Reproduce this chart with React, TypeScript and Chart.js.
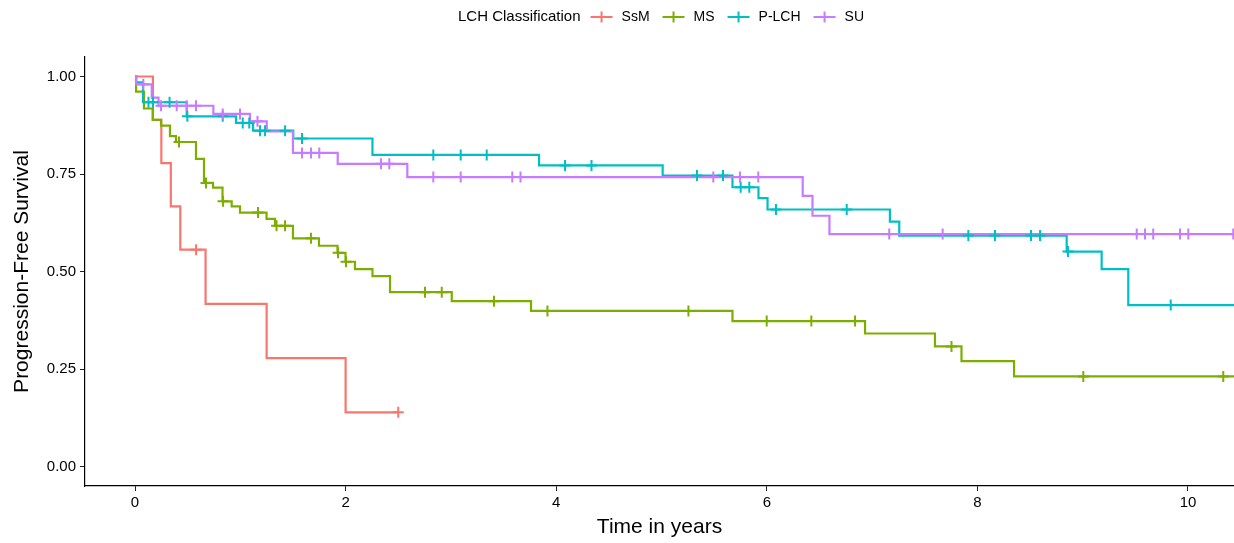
import React, { useEffect, useRef } from 'react';
import { Chart, registerables } from 'chart.js';

Chart.register(...registerables);

const FONT = '"Liberation Sans", Arial, sans-serif';

const legendTitle = 'LCH Classification';
const groups = ['SsM', 'MS', 'P-LCH', 'SU'];
const colors = ['#F8766D', '#7CAE00', '#00BFC4', '#C77CFF'];

const xTicks = [0, 2, 4, 6, 8, 10];
const xTickLabels = ['0', '2', '4', '6', '8', '10'];
const yTicks = [0, 0.25, 0.5, 0.75, 1];
const yTickLabels = ['0.00', '0.25', '0.50', '0.75', '1.00'];

// SsM
const ssmTime = [0, 0.17, 0.25, 0.34, 0.43, 0.67, 1.25, 2.0];
const ssmSurv = [1, 0.889, 0.778, 0.667, 0.556, 0.417, 0.278, 0.139];
const ssmCensor = [0.58, 2.5];
const ssmEnd = 2.5;

// MS
const msTime = [0, 0.01, 0.085, 0.168, 0.247, 0.332, 0.389, 0.579, 0.655, 0.741, 0.831, 0.918, 0.997, 1.249, 1.33, 1.5, 1.747, 1.923, 1.999, 2.089, 2.255, 2.422, 3.008, 3.761, 5.674, 6.933, 7.597, 7.849, 8.348];
const msSurv = [1, 0.961, 0.918, 0.889, 0.874, 0.847, 0.832, 0.789, 0.727, 0.715, 0.68, 0.667, 0.651, 0.635, 0.617, 0.585, 0.566, 0.548, 0.525, 0.506, 0.488, 0.447, 0.424, 0.399, 0.373, 0.341, 0.308, 0.27, 0.231];
const msCensor = [0.418, 0.674, 0.836, 1.168, 1.344, 1.425, 1.671, 1.928, 2.004, 2.754, 2.913, 3.409, 3.917, 5.256, 5.999, 6.423, 6.838, 7.754, 9.006, 10.335];
const msEnd = 10.8;

// P-LCH
const plTime = [0, 0.01, 0.076, 0.491, 0.959, 1.121, 1.503, 2.255, 3.837, 5.011, 5.674, 5.921, 6.007, 7.169, 7.258, 8.848, 9.18, 9.433];
const plSurv = [1, 0.985, 0.934, 0.898, 0.881, 0.861, 0.841, 0.799, 0.772, 0.746, 0.716, 0.688, 0.659, 0.628, 0.592, 0.551, 0.506, 0.414];
const plCensor = [0.128, 0.171, 0.328, 0.497, 0.833, 1.023, 1.085, 1.187, 1.235, 1.425, 1.586, 2.833, 3.093, 3.34, 4.084, 4.335, 5.337, 5.584, 5.752, 5.834, 6.087, 6.759, 7.914, 8.167, 8.509, 8.595, 8.86, 9.836];
const plEnd = 10.8;

// SU
const suTime = [0, 0.01, 0.159, 0.223, 0.744, 1.092, 1.251, 1.5, 1.925, 2.586, 6.341, 6.434, 6.595];
const suSurv = [1, 0.98, 0.946, 0.925, 0.904, 0.885, 0.859, 0.804, 0.776, 0.742, 0.694, 0.643, 0.596];
const suCensor = [0.079, 0.247, 0.396, 0.491, 0.579, 0.833, 0.997, 1.163, 1.586, 1.671, 1.75, 2.336, 2.415, 2.833, 3.093, 3.583, 3.661, 5.492, 5.745, 5.919, 7.163, 7.67, 9.513, 9.592, 9.67, 9.924, 10.003, 10.43];
const suEnd = 10.8;

const series = [
  { time: ssmTime, surv: ssmSurv, censor: ssmCensor, end: ssmEnd },
  { time: msTime, surv: msSurv, censor: msCensor, end: msEnd },
  { time: plTime, surv: plSurv, censor: plCensor, end: plEnd },
  { time: suTime, surv: suSurv, censor: suCensor, end: suEnd },
];

function stairs(time: number[], surv: number[], end: number) {
  const pts: { x: number; y: number }[] = [{ x: time[0], y: surv[0] }];
  for (let i = 1; i < time.length; i++) {
    pts.push({ x: time[i], y: surv[i - 1] });
    pts.push({ x: time[i], y: surv[i] });
  }
  pts.push({ x: end, y: surv[surv.length - 1] });
  return pts;
}

function levelAt(time: number[], surv: number[], t: number) {
  let s = surv[0];
  for (let i = 0; i < time.length; i++) {
    if (time[i] <= t) s = surv[i];
  }
  return s;
}

const legendPlugin = {
  id: 'kmLegend',
  afterDraw(chart: any) {
    const ctx = chart.ctx;
    ctx.save();
    ctx.textBaseline = 'middle';
    ctx.textAlign = 'left';
    ctx.fillStyle = '#000';
    const y = 17;
    let x = 458;
    ctx.font = `15px ${FONT}`;
    ctx.fillText(legendTitle, x, y);
    x += ctx.measureText(legendTitle).width + 10;
    ctx.font = `14px ${FONT}`;
    groups.forEach((g, i) => {
      ctx.strokeStyle = colors[i];
      ctx.lineWidth = 2;
      ctx.beginPath();
      ctx.moveTo(x, y);
      ctx.lineTo(x + 22, y);
      ctx.moveTo(x + 11, y - 5.5);
      ctx.lineTo(x + 11, y + 5.5);
      ctx.stroke();
      x += 31;
      ctx.fillStyle = '#000';
      ctx.fillText(g, x, y);
      x += ctx.measureText(g).width + 13;
    });
    ctx.restore();
  },
};

export default function App() {
  const ref = useRef<HTMLCanvasElement | null>(null);

  useEffect(() => {
    if (!ref.current) return;
    const n = series.length;
    const censorSets = series.map((s, i) => ({
      type: 'scatter' as const,
      label: groups[i] + ' censored',
      data: s.censor.map((t) => ({ x: t, y: levelAt(s.time, s.surv, t) })),
      showLine: false,
      pointStyle: 'cross',
      pointRadius: 5.5,
      pointHoverRadius: 5.5,
      pointBorderWidth: 2,
      borderColor: colors[i],
      backgroundColor: colors[i],
      order: n - 1 - i,
    }));
    const lineSets = series.map((s, i) => ({
      type: 'line' as const,
      label: groups[i],
      data: stairs(s.time, s.surv, s.end),
      borderColor: colors[i],
      backgroundColor: colors[i],
      borderWidth: 2.2,
      pointRadius: 0,
      pointHoverRadius: 0,
      tension: 0,
      fill: false,
      borderJoinStyle: 'miter' as const,
      order: 2 * n - 1 - i,
    }));

    const chart = new Chart(ref.current, {
      type: 'line',
      data: { datasets: [...lineSets, ...censorSets] as any },
      options: {
        animation: false,
        responsive: false,
        maintainAspectRatio: false,
        layout: { autoPadding: false, padding: { top: 57, right: 0, bottom: 0, left: 0 } },
        plugins: {
          legend: { display: false },
          tooltip: { enabled: false },
        },
        scales: {
          x: {
            type: 'linear',
            min: -0.475,
            max: 10.437,
            afterBuildTicks: (s: any) => {
              s.ticks = xTicks.map((v) => ({ value: v }));
            },
            afterFit: (s: any) => {
              s.height = 57;
              s.paddingLeft = 0;
              s.paddingRight = 0;
            },
            ticks: {
              autoSkip: false,
              maxRotation: 0,
              padding: 3,
              color: '#000',
              font: { size: 15, family: FONT },
              callback: (_v: any, i: number) => xTickLabels[i],
            },
            grid: {
              display: true,
              drawOnChartArea: false,
              drawTicks: true,
              tickLength: 5,
              color: '#222',
              lineWidth: 1,
            },
            border: { display: true, color: '#000', width: 1.2 },
            title: {
              display: true,
              text: 'Time in years',
              color: '#000',
              font: { size: 21, family: FONT },
              padding: { top: 0, bottom: 3 },
            },
          },
          y: {
            type: 'linear',
            min: -0.05,
            max: 1.05,
            afterBuildTicks: (s: any) => {
              s.ticks = yTicks.map((v) => ({ value: v }));
            },
            afterFit: (s: any) => {
              s.width = 85;
              s.paddingTop = 0;
              s.paddingBottom = 0;
            },
            ticks: {
              autoSkip: false,
              padding: 4,
              color: '#000',
              font: { size: 15, family: FONT },
              callback: (_v: any, i: number) => yTickLabels[i],
            },
            grid: {
              display: true,
              drawOnChartArea: false,
              drawTicks: true,
              tickLength: 5,
              color: '#222',
              lineWidth: 1,
            },
            border: { display: true, color: '#000', width: 1.2 },
            title: {
              display: true,
              text: 'Progression-Free Survival',
              color: '#000',
              font: { size: 21, family: FONT },
              padding: { top: 10, bottom: 0 },
            },
          },
        },
      },
      plugins: [legendPlugin],
    });
    return () => chart.destroy();
  }, []);

  return (
    <div style={{ position: 'absolute', left: 0, top: 0, width: 1234, height: 543, background: '#fff' }}>
      <canvas ref={ref} width={1234} height={543} style={{ display: 'block' }} />
    </div>
  );
}
